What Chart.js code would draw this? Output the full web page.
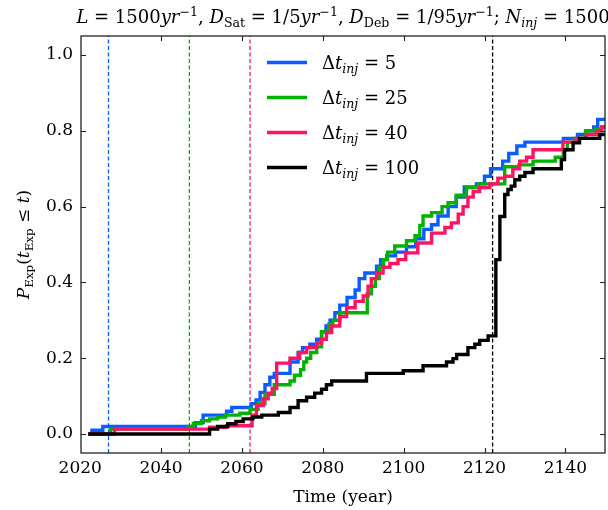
<!DOCTYPE html>
<html>
<head>
<meta charset="utf-8">
<script src="https://cdn.jsdelivr.net/npm/chart.js@4.4.0/dist/chart.umd.min.js"></script>
<style>
  html, body { margin: 0; padding: 0; background: #fff; }
  #wrap { width: 608px; height: 510px; }
</style>
</head>
<body>
<div id="wrap"><canvas id="chart" width="608" height="510"></canvas></div>
<script>
// Data (step CDFs)
const injLabels = ["5", "25", "40", "100"];
const injTimes = [2027, 2047, 2062, 2122];
const colors = ["#0a5cff", "#00b300", "#ff1464", "#000000"];

const xTicks = [2020, 2040, 2060, 2080, 2100, 2120, 2140];
const yTicks = [0, 0.2, 0.4, 0.6, 0.8, 1.0];

const blueX = [2022, 2022.9, 2025.6, 2048.5, 2050.4, 2056.2, 2057.5, 2062.3, 2063.5, 2064.5, 2065.7, 2066.9, 2068, 2071.9, 2073.9, 2075, 2076.8, 2078.5, 2079.7, 2080.8, 2081.8, 2083, 2084.2, 2086, 2088, 2089, 2090.4, 2093.3, 2094.3, 2095.8, 2098, 2100.7, 2103, 2105, 2106.9, 2108.5, 2111, 2113, 2115, 2118, 2120, 2121.5, 2124.5, 2126, 2128, 2130, 2139.5, 2143, 2145, 2147, 2148, 2150];
const blueY = [0, 0.01, 0.02, 0.03, 0.05, 0.06, 0.07, 0.08, 0.09, 0.11, 0.13, 0.15, 0.16, 0.19, 0.215, 0.228, 0.237, 0.25, 0.27, 0.285, 0.3, 0.32, 0.34, 0.36, 0.38, 0.41, 0.425, 0.443, 0.46, 0.47, 0.48, 0.494, 0.515, 0.54, 0.552, 0.575, 0.6, 0.625, 0.652, 0.66, 0.68, 0.7, 0.72, 0.74, 0.76, 0.77, 0.78, 0.79, 0.8, 0.81, 0.83, 0.83];

const greenX = [2022, 2027.5, 2046.8, 2048, 2050, 2052, 2054, 2056, 2059.5, 2062, 2064, 2065.7, 2068, 2071.9, 2073, 2074.5, 2075.3, 2076, 2077, 2078.5, 2079.7, 2081.5, 2082.5, 2084.2, 2091, 2092, 2093, 2094, 2095, 2096, 2097.8, 2100.7, 2102.8, 2104, 2104.8, 2106.9, 2109.5, 2111, 2113, 2115.5, 2118.5, 2125, 2128.5, 2132, 2137.5, 2139.5, 2140.5, 2142.5, 2145, 2147.5, 2149, 2150];
const greenY = [0, 0.013, 0.02, 0.028, 0.035, 0.04, 0.045, 0.05, 0.055, 0.065, 0.08, 0.105, 0.13, 0.14, 0.155, 0.17, 0.19, 0.2, 0.215, 0.23, 0.27, 0.29, 0.3, 0.32, 0.37, 0.39, 0.41, 0.44, 0.46, 0.48, 0.496, 0.51, 0.523, 0.55, 0.575, 0.584, 0.6, 0.61, 0.63, 0.65, 0.66, 0.705, 0.71, 0.72, 0.73, 0.75, 0.77, 0.78, 0.8, 0.805, 0.81, 0.81];

const redX = [2022, 2028.5, 2052, 2056.2, 2062.5, 2063.6, 2065.3, 2066.5, 2067.5, 2068.6, 2071.9, 2074.3, 2076, 2078.5, 2079.7, 2080.9, 2082.2, 2084.2, 2085.9, 2088, 2090, 2091.2, 2092, 2093.3, 2094.9, 2096.6, 2098.6, 2100.5, 2103.5, 2106.9, 2110.2, 2111.8, 2113.5, 2114.7, 2115.9, 2117.2, 2118.8, 2121.3, 2123.3, 2125, 2127, 2128.7, 2130.4, 2132, 2139.4, 2142.7, 2145.2, 2147.7, 2149, 2150];
const redY = [0, 0.013, 0.018, 0.022, 0.05, 0.075, 0.093, 0.108, 0.12, 0.187, 0.2, 0.215, 0.228, 0.24, 0.25, 0.268, 0.285, 0.31, 0.333, 0.35, 0.364, 0.39, 0.41, 0.425, 0.44, 0.45, 0.46, 0.478, 0.504, 0.53, 0.545, 0.557, 0.58, 0.6, 0.625, 0.64, 0.65, 0.66, 0.675, 0.68, 0.7, 0.72, 0.73, 0.75, 0.77, 0.78, 0.79, 0.8, 0.81, 0.81];

const blackX = [2022, 2052, 2054, 2056.5, 2058.5, 2060.3, 2062.7, 2064.9, 2069, 2071.9, 2073.9, 2076, 2078, 2079.7, 2080.9, 2082.2, 2090.8, 2099.9, 2104.8, 2110.6, 2112.2, 2113.1, 2115.9, 2117.6, 2118.8, 2120.9, 2122.8, 2123.8, 2125, 2125.8, 2126.6, 2127.5, 2128.7, 2130, 2132, 2139, 2139.8, 2141.9, 2143.5, 2148.5, 2150];
const blackY = [0, 0.013, 0.02, 0.027, 0.033, 0.04, 0.045, 0.05, 0.057, 0.07, 0.088, 0.097, 0.108, 0.118, 0.13, 0.14, 0.16, 0.167, 0.18, 0.19, 0.199, 0.21, 0.228, 0.237, 0.247, 0.259, 0.46, 0.574, 0.632, 0.645, 0.654, 0.671, 0.68, 0.69, 0.7, 0.724, 0.75, 0.768, 0.78, 0.79, 0.79];

const seriesX = [blueX, greenX, redX, blackX];
const seriesY = [blueY, greenY, redY, blackY];

const FONT = '"DejaVu Serif", "Liberation Serif", serif';
const zip = (xs, ys) => xs.map((x, i) => ({ x, y: ys[i] }));

// mathtext-ish runs: {t, it, pos}
function drawMath(ctx, runs, x, y, size, align) {
  const parts = runs.map((r) => {
    const s = r.pos ? size * 0.7 : size;
    const font = (r.it ? "italic " : "") + s + "px " + FONT;
    ctx.font = font;
    const dy = r.pos === "sub" ? size * 0.24 : r.pos === "sup" ? -size * 0.4 : 0;
    return { t: r.t, font, dy, w: ctx.measureText(r.t).width };
  });
  const total = parts.reduce((a, p) => a + p.w, 0);
  let cx = align === "center" ? x - total / 2 : x;
  ctx.textAlign = "left";
  ctx.textBaseline = "alphabetic";
  for (const p of parts) {
    ctx.font = p.font;
    ctx.fillText(p.t, cx, y + p.dy);
    cx += p.w;
  }
}

const titleRuns = [
  { t: "L", it: true }, { t: " = 1500" }, { t: "yr", it: true }, { t: "\u22121", pos: "sup" },
  { t: ", " }, { t: "D", it: true }, { t: "Sat", pos: "sub" }, { t: " = 1/5" }, { t: "yr", it: true }, { t: "\u22121", pos: "sup" },
  { t: ", " }, { t: "D", it: true }, { t: "Deb", pos: "sub" }, { t: " = 1/95" }, { t: "yr", it: true }, { t: "\u22121", pos: "sup" },
  { t: "; " }, { t: "N", it: true }, { t: "inj", it: true, pos: "sub" }, { t: " = 1500" },
];
const yLabelRuns = [
  { t: "P", it: true }, { t: "Exp", pos: "sub" }, { t: "(" }, { t: "t", it: true }, { t: "Exp", pos: "sub" },
  { t: " \u2264 " }, { t: "t", it: true }, { t: ")" },
];

const decorPlugin = {
  id: "decor",
  afterDraw(chart) {
    const { ctx, chartArea: a, scales } = chart;
    ctx.save();
    // frame
    ctx.strokeStyle = "#222";
    ctx.lineWidth = 1.3;
    ctx.strokeRect(a.left, a.top, a.right - a.left, a.bottom - a.top);
    // inward ticks on all four sides
    ctx.lineWidth = 1.1;
    ctx.beginPath();
    for (const v of xTicks) {
      const px = Math.round(scales.x.getPixelForValue(v)) + 0.5;
      if (px <= a.left + 1 || px >= a.right - 1) continue;
      ctx.moveTo(px, a.bottom); ctx.lineTo(px, a.bottom - 5);
      ctx.moveTo(px, a.top); ctx.lineTo(px, a.top + 5);
    }
    for (const v of yTicks) {
      const py = Math.round(scales.y.getPixelForValue(v)) + 0.5;
      ctx.moveTo(a.left, py); ctx.lineTo(a.left + 5, py);
      ctx.moveTo(a.right, py); ctx.lineTo(a.right - 5, py);
    }
    ctx.stroke();
    ctx.fillStyle = "#000";
    // title
    drawMath(ctx, titleRuns, (a.left + a.right) / 2, 23, 18, "center");
    // y label
    ctx.save();
    ctx.translate(23, (a.top + a.bottom) / 2);
    ctx.rotate(-Math.PI / 2);
    drawMath(ctx, yLabelRuns, 0, 6, 17, "center");
    ctx.restore();
    // legend (no frame)
    injLabels.forEach((lab, i) => {
      const y = 62.5 + 35 * i;
      ctx.strokeStyle = colors[i];
      ctx.lineWidth = 3.5;
      ctx.beginPath();
      ctx.moveTo(267, y); ctx.lineTo(307, y);
      ctx.stroke();
      ctx.fillStyle = "#000";
      drawMath(ctx, [{ t: "\u0394" }, { t: "t", it: true }, { t: "inj", it: true, pos: "sub" }, { t: " = " + lab }], 322, y + 6, 18, "left");
    });
    ctx.restore();
  },
};

const stepSets = seriesX.map((xs, i) => ({
  label: "\u0394t_inj = " + injLabels[i],
  data: zip(xs, seriesY[i]),
  borderColor: colors[i],
  borderWidth: 3.4,
  stepped: true,
  pointRadius: 0,
  fill: false,
  order: 4 - i,
}));
const dashSets = injTimes.map((t, i) => ({
  label: "inj " + injLabels[i],
  data: [{ x: t, y: -0.05 }, { x: t, y: 1.05 }],
  borderColor: colors[i],
  borderWidth: 1.3,
  borderDash: [4, 2.5],
  pointRadius: 0,
  fill: false,
  order: 10,
}));

new Chart(document.getElementById("chart").getContext("2d"), {
  type: "line",
  data: { datasets: [...stepSets, ...dashSets] },
  options: {
    responsive: false,
    animation: false,
    layout: { padding: { left: 0, right: 3, top: 36, bottom: 0 } },
    plugins: { legend: { display: false }, tooltip: { enabled: false }, title: { display: false } },
    scales: {
      x: {
        type: "linear",
        min: 2020.2,
        max: 2149.8,
        afterBuildTicks: (s) => { s.ticks = xTicks.map((v) => ({ value: v })); },
        afterFit: (s) => { s.height = 57; },
        grid: { display: false, drawTicks: false },
        border: { display: false },
        ticks: { color: "#000", font: { family: FONT, size: 17 }, padding: 5, maxRotation: 0, callback: (v) => String(v) },
        title: { display: true, text: "Time (year)", color: "#000", font: { family: FONT, size: 17 }, padding: { top: 0, bottom: 2 } },
      },
      y: {
        type: "linear",
        min: -0.05,
        max: 1.05,
        afterBuildTicks: (s) => { s.ticks = yTicks.map((v) => ({ value: v })); },
        afterFit: (s) => { s.width = 81; },
        grid: { display: false, drawTicks: false },
        border: { display: false },
        ticks: { color: "#000", font: { family: FONT, size: 17 }, padding: 8, callback: (v) => v.toFixed(1) },
      },
    },
  },
  plugins: [decorPlugin],
});
</script>
</body>
</html>
